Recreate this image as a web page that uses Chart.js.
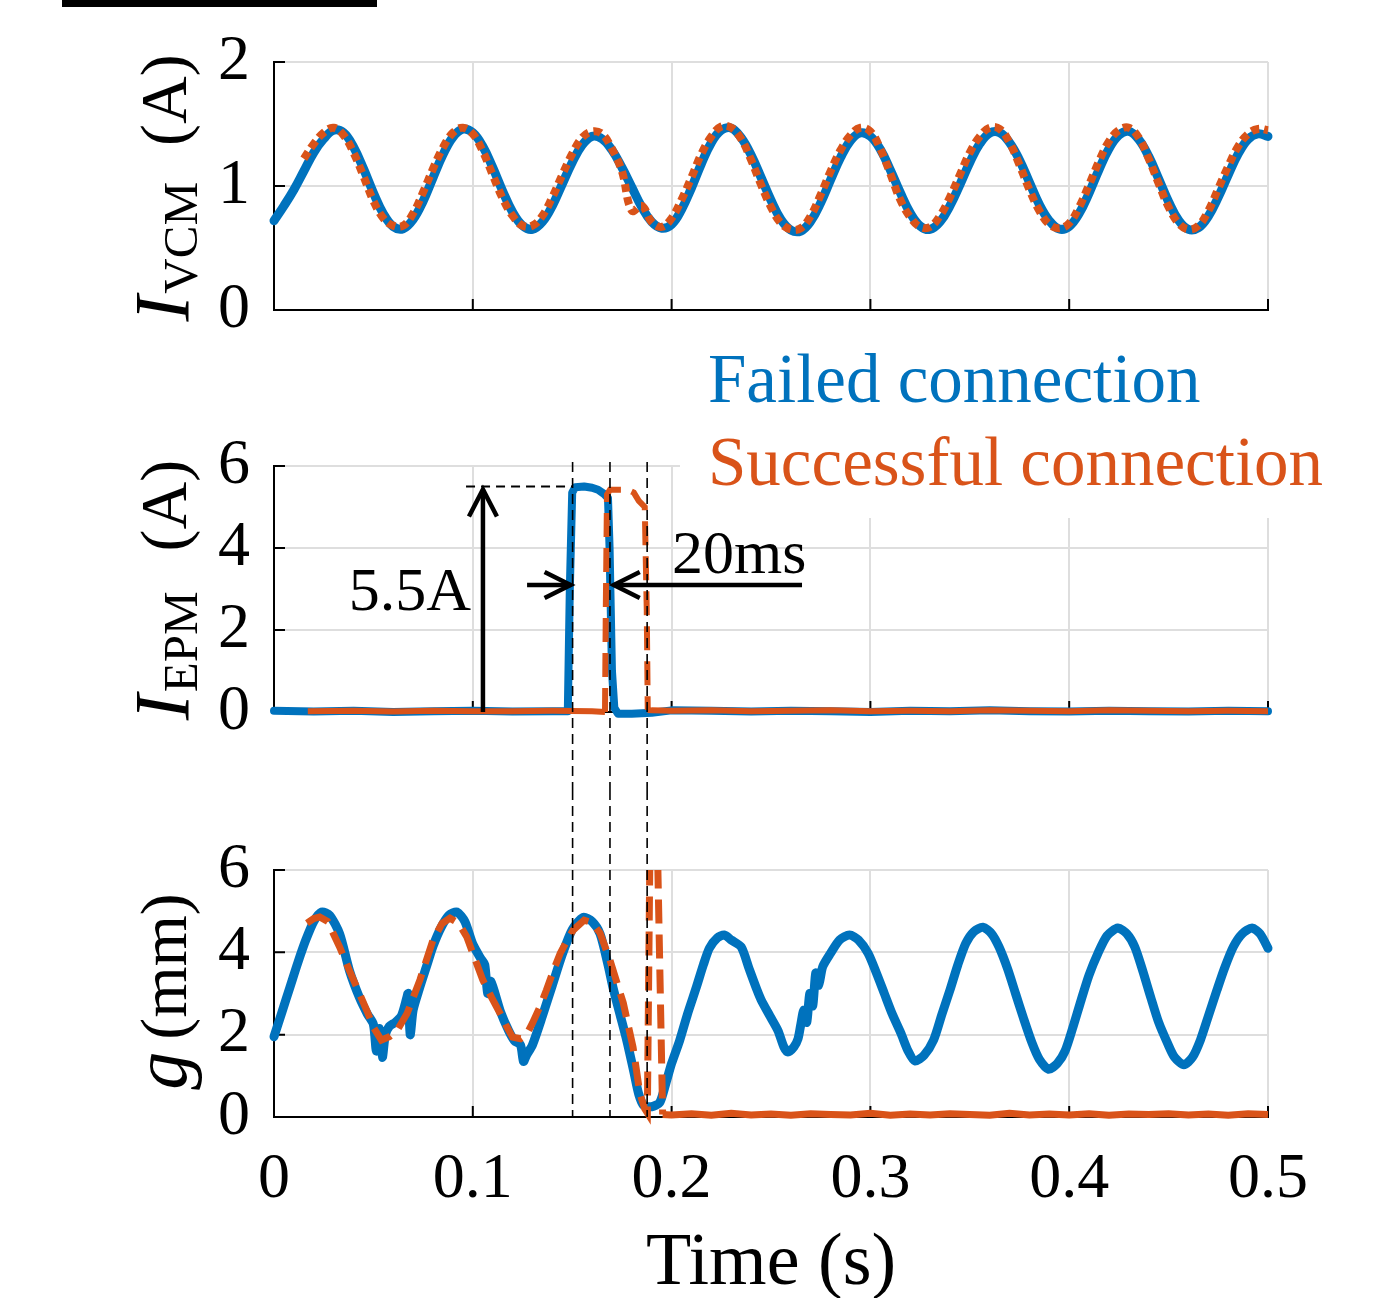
<!DOCTYPE html>
<html>
<head>
<meta charset="utf-8">
<script src="https://cdn.jsdelivr.net/npm/chart.js@4.4.0/dist/chart.umd.min.js"></script>
<style>
  html, body { margin: 0; padding: 0; background: #fff; overflow: hidden; }
  #wrap { position: relative; width: 1379px; height: 1298px; background: #fff; }
  canvas { position: absolute; left: 0; }
</style>
</head>
<body>
<div id="wrap">
  <canvas id="c1" width="1379" height="380" style="top:0px"></canvas>
  <canvas id="c2" width="1379" height="460" style="top:330px"></canvas>
  <canvas id="c3" width="1379" height="508" style="top:790px"></canvas>
</div>
<script>
// ================= DATA =================
const timeTicks = [0, 0.1, 0.2, 0.3, 0.4, 0.5];

// I_VCM (A), sampled every 5 ms
const vcmStep = 0.005;
const ivcmFailed = [
  0.72, 0.84, 0.97, 1.12, 1.27, 1.38, 1.45, 1.43, 1.315, 1.14,
  0.946, 0.777, 0.672, 0.655, 0.73, 0.877, 1.067, 1.253, 1.394, 1.458,
  1.43, 1.32, 1.15, 0.96, 0.79, 0.68, 0.65, 0.71, 0.84, 1.016,
  1.19, 1.33, 1.40, 1.38, 1.29, 1.15, 0.99, 0.83, 0.71, 0.66,
  0.69, 0.81, 0.985, 1.18, 1.35, 1.45, 1.467, 1.39, 1.25, 1.07,
  0.885, 0.73, 0.645, 0.637, 0.716, 0.864, 1.05, 1.23, 1.366, 1.428,
  1.40, 1.295, 1.13, 0.948, 0.784, 0.678, 0.65, 0.71, 0.84, 1.01,
  1.19, 1.34, 1.427, 1.43, 1.35, 1.21, 1.03, 0.85, 0.72, 0.653,
  0.674, 0.778, 0.943, 1.132, 1.30, 1.41, 1.44, 1.375, 1.239, 1.058,
  0.873, 0.725, 0.65, 0.663, 0.756, 0.91, 1.09, 1.259, 1.377, 1.42,
  1.40
];
// successful connection trace starts at t = 0.015 s
const ivcmSuccessStart = 0.015;
const ivcmSuccess = [
  1.22, 1.34, 1.43, 1.47, 1.41, 1.27, 1.08,
  0.88, 0.74, 0.68, 0.68, 0.78, 0.95, 1.14, 1.31, 1.43, 1.47,
  1.42, 1.28, 1.09, 0.90, 0.76, 0.68, 0.68, 0.76, 0.91, 1.09,
  1.26, 1.39, 1.44, 1.42, 1.30, 1.12, 0.80, 0.84, 0.71, 0.67,
  0.74, 0.89, 1.07, 1.26, 1.40, 1.48, 1.47, 1.38, 1.21, 1.01,
  0.83, 0.70, 0.65, 0.66, 0.76, 0.93, 1.12, 1.29, 1.41, 1.47,
  1.44, 1.30, 1.10, 0.89, 0.75, 0.67, 0.67, 0.76, 0.91, 1.09,
  1.27, 1.40, 1.47, 1.46, 1.35, 1.17, 0.97, 0.80, 0.69, 0.66,
  0.70, 0.83, 1.01, 1.20, 1.36, 1.45, 1.47, 1.39, 1.22, 1.02,
  0.83, 0.70, 0.65, 0.68, 0.80, 0.98, 1.16, 1.32, 1.42, 1.46,
  1.45
];

// I_EPM (A): [time (s), current (A)]
const iepmFailed = [
  [0,0.03],[0.02,0.01],[0.04,0.03],[0.06,0.0],[0.08,0.02],[0.10,0.03],[0.12,0.01],[0.14,0.02],
  [0.1478,0.02],[0.1488,3.0],[0.1500,5.35],[0.1515,5.48],[0.156,5.5],[0.160,5.47],[0.163,5.42],
  [0.166,5.32],[0.168,5.22],[0.1688,4.0],[0.1700,1.0],[0.1712,0.1],[0.173,-0.04],[0.18,-0.04],
  [0.19,-0.02],[0.20,0.04],[0.22,0.03],[0.24,0.01],[0.26,0.03],[0.28,0.02],[0.30,0.0],[0.32,0.03],
  [0.34,0.02],[0.36,0.04],[0.38,0.02],[0.40,0.01],[0.42,0.03],[0.44,0.02],[0.46,0.01],[0.48,0.03],[0.50,0.02]
];
const iepmSuccess = [
  [0.017,0.02],[0.04,0.03],[0.06,0.01],[0.08,0.03],[0.10,0.02],[0.12,0.02],[0.14,0.03],[0.16,0.02],
  [0.1665,0.0],[0.1669,2.5],[0.1675,5.3],[0.169,5.42],[0.178,5.42],[0.181,5.35],[0.1835,5.15],
  [0.1865,5.0],[0.1875,2.5],[0.1880,0.05],[0.19,0.04],[0.20,0.03],[0.22,0.04],[0.24,0.02],[0.26,0.03],
  [0.28,0.04],[0.30,0.02],[0.32,0.03],[0.34,0.02],[0.36,0.04],[0.38,0.03],[0.40,0.02],[0.42,0.04],
  [0.44,0.03],[0.46,0.02],[0.48,0.03],[0.50,0.02]
];

// air gap g (mm): [time (s), gap (mm)]
const gFailed = [
  [0,1.95],[0.004,2.55],[0.008,3.15],[0.012,3.75],[0.016,4.3],[0.020,4.75],[0.024,4.98],[0.028,4.9],
  [0.033,4.45],[0.038,3.55],[0.043,2.9],[0.047,2.5],[0.050,2.25],[0.0515,1.6],[0.053,2.15],[0.0545,1.45],
  [0.056,2.0],[0.058,2.2],[0.061,2.3],[0.064,2.45],[0.066,2.75],[0.0675,3.0],[0.0685,2.0],[0.070,2.6],
  [0.073,3.1],[0.077,3.7],[0.080,4.15],[0.084,4.6],[0.088,4.9],[0.092,4.98],[0.096,4.75],[0.100,4.2],
  [0.104,3.85],[0.106,3.7],[0.1075,3.0],[0.109,3.3],[0.114,2.55],[0.118,2.1],[0.121,1.85],[0.124,1.75],
  [0.1255,1.35],[0.127,1.5],[0.130,1.75],[0.135,2.45],[0.140,3.2],[0.145,3.95],[0.150,4.55],[0.1555,4.85],
  [0.160,4.75],[0.164,4.45],[0.168,3.7],[0.1705,3.15],[0.174,2.5],[0.1775,1.85],[0.181,1.1],[0.1835,0.55],
  [0.186,0.28],[0.190,0.25],[0.194,0.35],[0.197,0.8],[0.200,1.3],[0.204,1.85],[0.208,2.5],[0.2125,3.16],
  [0.216,3.7],[0.219,4.1],[0.223,4.35],[0.2265,4.42],[0.230,4.3],[0.235,4.13],[0.239,3.6],[0.243,3.08],
  [0.245,2.85],[0.2495,2.45],[0.2535,2.1],[0.2565,1.7],[0.2585,1.58],[0.2615,1.7],[0.2636,1.9],[0.265,2.25],
  [0.2665,2.6],[0.268,2.3],[0.2695,3.0],[0.271,2.7],[0.2725,3.5],[0.274,3.2],[0.276,3.65],[0.280,3.98],
  [0.2845,4.3],[0.2895,4.42],[0.294,4.3],[0.2988,3.98],[0.303,3.5],[0.307,3.0],[0.311,2.5],[0.3153,2.04],
  [0.319,1.6],[0.3224,1.36],[0.327,1.5],[0.3318,1.87],[0.336,2.5],[0.340,3.08],[0.344,3.7],[0.348,4.22],
  [0.352,4.5],[0.3566,4.61],[0.361,4.45],[0.3647,4.13],[0.369,3.6],[0.373,3.0],[0.377,2.4],[0.3813,1.8],
  [0.385,1.4],[0.3896,1.16],[0.394,1.3],[0.3979,1.6],[0.402,2.2],[0.406,2.84],[0.410,3.45],[0.4145,3.98],
  [0.419,4.4],[0.4245,4.59],[0.429,4.45],[0.433,4.13],[0.437,3.55],[0.441,2.91],[0.445,2.3],[0.4494,1.8],
  [0.453,1.45],[0.4577,1.27],[0.462,1.45],[0.466,1.87],[0.470,2.45],[0.4743,3.08],[0.478,3.6],[0.4825,4.13],
  [0.487,4.45],[0.492,4.59],[0.496,4.45],[0.500,4.1]
];
const gSuccess = [
  [0.0166,4.71],[0.020,4.82],[0.023,4.86],[0.027,4.75],[0.033,4.13],[0.038,3.55],[0.043,3.0],[0.047,2.55],
  [0.050,2.18],[0.054,1.87],[0.058,1.95],[0.062,2.11],[0.067,2.52],[0.0734,3.33],[0.080,4.3],[0.0845,4.7],
  [0.0885,4.83],[0.093,4.7],[0.097,4.37],[0.101,3.85],[0.105,3.33],[0.1095,2.9],[0.1137,2.52],[0.117,2.2],
  [0.120,1.94],[0.124,1.9],[0.127,2.0],[0.130,2.28],[0.1335,2.65],[0.137,3.08],[0.1405,3.55],[0.144,3.98],
  [0.1475,4.3],[0.1505,4.54],[0.156,4.78],[0.160,4.72],[0.164,4.47],[0.169,3.81],[0.1757,2.77],[0.1806,1.7],
  [0.184,0.58],[0.1865,0.2],[0.1878,0.1],[0.1893,7.5],[0.1925,7.5],[0.1955,0.06],[0.200,0.05],[0.21,0.08],
  [0.22,0.04],[0.23,0.09],[0.24,0.05],[0.25,0.07],[0.26,0.04],[0.27,0.08],[0.28,0.06],[0.29,0.05],
  [0.30,0.09],[0.31,0.04],[0.32,0.07],[0.33,0.05],[0.34,0.08],[0.35,0.06],[0.36,0.04],[0.37,0.09],
  [0.38,0.05],[0.39,0.07],[0.40,0.05],[0.41,0.08],[0.42,0.04],[0.43,0.07],[0.44,0.06],[0.45,0.08],
  [0.46,0.05],[0.47,0.07],[0.48,0.04],[0.49,0.08],[0.50,0.06]
];

// annotation values
const markerTimes = [0.1502, 0.1690, 0.1877];   // vertical dashed lines (s)
const peakCurrent = 5.5;                          // A
const peakArrowTime = 0.1051;                     // s
const peakLineStart = 0.0966;                     // s
const widthArrowLevel = 3.1;                      // A
const widthArrowLeft = [0.1273, 0.1502];          // tail, tip (s)
const widthArrowRight = [0.2656, 0.1699];         // tail, tip (s)
const labels = { peak: '5.5A', width: '20ms', failed: 'Failed connection', success: 'Successful connection' };

// ================= STYLE =================
const FONT = '"Liberation Serif", "Times New Roman", serif';
const BLUE = '#0072BD';
const ORANGE = '#D95319';
const GRID = '#dedede';

const toPts = arr => arr.map(p => ({ x: p[0], y: p[1] }));
const vcmFailedPts = ivcmFailed.map((v, i) => ({ x: +(i * vcmStep).toFixed(4), y: v }));
const vcmSuccessPts = ivcmSuccess.map((v, i) => ({ x: +(ivcmSuccessStart + i * vcmStep).toFixed(4), y: v }));

function xScale(showLabels, height) {
  return {
    type: 'linear', min: 0, max: 0.5,
    afterFit: s => { s.height = height; },
    grid: { color: GRID, lineWidth: 2, drawTicks: false },
    border: { display: true, color: '#000', width: 2 },
    ticks: {
      display: showLabels, stepSize: 0.1, autoSkip: false, maxRotation: 0, minRotation: 0,
      padding: 31, color: '#000', font: { family: FONT, size: 64, lineHeight: 1 },
      callback: v => String(Number(Number(v).toFixed(2)))
    },
    title: showLabels
      ? { display: true, text: 'Time (s)', color: '#000', font: { family: FONT, size: 74, lineHeight: 0.9 }, padding: 0 }
      : { display: false }
  };
}
function yScale(max, step) {
  return {
    type: 'linear', min: 0, max: max,
    afterFit: s => { s.width = 274; },
    grid: { color: GRID, lineWidth: 2, drawTicks: false },
    border: { display: true, color: '#000', width: 2 },
    ticks: { stepSize: step, padding: 24, color: '#000', font: { family: FONT, size: 64, lineHeight: 1 },
             callback: v => String(v) }
  };
}

const inwardTicks = {
  id: 'inwardTicks',
  beforeDatasetsDraw(chart) {
    const { ctx, chartArea: a, scales: { x, y } } = chart;
    ctx.save();
    ctx.strokeStyle = '#000'; ctx.lineWidth = 2;
    ctx.beginPath();
    y.ticks.forEach(t => { const p = y.getPixelForValue(t.value); ctx.moveTo(a.left, p); ctx.lineTo(a.left + 11, p); });
    x.ticks.forEach(t => { const p = x.getPixelForValue(t.value); ctx.moveTo(p, a.bottom); ctx.lineTo(p, a.bottom - 11); });
    ctx.stroke();
    ctx.restore();
  }
};

function yTitle(parts, baseX, shift) {
  return {
    id: 'ytitle',
    afterDraw(chart) {
      const { ctx, chartArea: a } = chart;
      ctx.save();
      let total = 0;
      parts.forEach(p => { ctx.font = p.font; p.w = ctx.measureText(p.text).width; total += p.w + (p.gap || 0); });
      const cy = (a.top + a.bottom) / 2 + (shift || 0);
      ctx.translate(baseX, cy + total / 2);
      ctx.rotate(-Math.PI / 2);
      ctx.fillStyle = '#000'; ctx.textBaseline = 'alphabetic'; ctx.textAlign = 'left';
      let cur = 0;
      parts.forEach(p => { ctx.font = p.font; cur += (p.gap || 0); ctx.fillText(p.text, cur, p.dy || 0); cur += p.w; });
      ctx.restore();
    }
  };
}

function dashedVertical(ctx, x, y0, y1) {
  ctx.beginPath(); ctx.moveTo(x, y0); ctx.lineTo(x, y1); ctx.stroke();
}
function arrowHead(ctx, tipX, tipY, dirX, dirY, len, half) {
  const bx = tipX - dirX * len, by = tipY - dirY * len;
  const px = -dirY, py = dirX;
  ctx.beginPath();
  ctx.moveTo(bx + px * half, by + py * half);
  ctx.lineTo(tipX, tipY);
  ctx.lineTo(bx - px * half, by - py * half);
  ctx.stroke();
}

const baseOpts = {
  responsive: false, animation: false, devicePixelRatio: 1, events: [],
  plugins: { legend: { display: false }, tooltip: { enabled: false } },
  elements: { point: { radius: 0 } }
};

// ================= PANEL 1 : I_VCM =================
new Chart(document.getElementById('c1'), {
  type: 'line',
  data: {
    datasets: [
      { data: vcmSuccessPts, borderColor: ORANGE, borderWidth: 8, borderDash: [8, 5], borderCapStyle: 'butt',
        tension: 0.4, pointRadius: 0, order: 0, clip: 8 },
      { data: vcmFailedPts, borderColor: BLUE, borderWidth: 9, borderJoinStyle: 'round', borderCapStyle: 'round',
        tension: 0.4, pointRadius: 0, order: 1, clip: 8 }
    ]
  },
  options: Object.assign({}, baseOpts, {
    layout: { padding: { top: 62, left: 0, right: 111, bottom: 0 } },
    scales: { x: xScale(false, 70), y: yScale(2, 1) }
  }),
  plugins: [inwardTicks,
    yTitle([
      { text: 'I', font: 'italic 78px ' + FONT },
      { text: 'VCM', font: '49px ' + FONT, dy: 9, gap: 2 },
      { text: '(A)', font: '66px ' + FONT, dy: -2, gap: 36 }
    ], 188, 2),
    { id: 'topbar', afterDraw(chart) { const c = chart.ctx; c.save(); c.fillStyle = '#000'; c.fillRect(62, 0, 315, 7); c.restore(); } }
  ]
});

// ================= PANEL 2 : I_EPM =================
const solidFlat = ctx => (Math.abs(ctx.p0.parsed.y) < 0.3 && Math.abs(ctx.p1.parsed.y) < 0.3) ? [] : undefined;
new Chart(document.getElementById('c2'), {
  type: 'line',
  data: {
    datasets: [
      { data: toPts(iepmSuccess), borderColor: ORANGE, borderWidth: 6, borderDash: [24, 11], borderCapStyle: 'butt',
        tension: 0, pointRadius: 0, order: 0, clip: 8, segment: { borderDash: solidFlat } },
      { data: toPts(iepmFailed), borderColor: BLUE, borderWidth: 8, borderJoinStyle: 'round', borderCapStyle: 'round',
        tension: 0, pointRadius: 0, order: 1, clip: 8 }
    ]
  },
  options: Object.assign({}, baseOpts, {
    layout: { padding: { top: 136, left: 0, right: 111, bottom: 0 } },
    scales: { x: xScale(false, 78), y: yScale(6, 2) }
  }),
  plugins: [inwardTicks,
    yTitle([
      { text: 'I', font: 'italic 78px ' + FONT },
      { text: 'EPM', font: '49px ' + FONT, dy: 9, gap: 2 },
      { text: '(A)', font: '66px ' + FONT, dy: -2, gap: 40 }
    ], 188, 1),
    {
      id: 'annot2',
      afterDraw(chart) {
        const { ctx, scales: { x, y } } = chart;
        ctx.save();
        // dashed markers
        ctx.strokeStyle = '#000'; ctx.lineWidth = 1.6; ctx.setLineDash([10, 6]);
        markerTimes.forEach(t => dashedVertical(ctx, x.getPixelForValue(t), y.getPixelForValue(6.1), chart.height));
        // dashed level line at 5.5 A
        ctx.lineWidth = 2.2; ctx.setLineDash([9, 6]);
        ctx.beginPath();
        ctx.moveTo(x.getPixelForValue(peakLineStart), y.getPixelForValue(peakCurrent));
        ctx.lineTo(x.getPixelForValue(markerTimes[0]), y.getPixelForValue(peakCurrent));
        ctx.stroke();
        ctx.setLineDash([]);
        // vertical arrow
        ctx.lineWidth = 4.5; ctx.lineCap = 'butt'; ctx.lineJoin = 'miter';
        const ax = x.getPixelForValue(peakArrowTime);
        const ay0 = y.getPixelForValue(0), ay1 = y.getPixelForValue(peakCurrent);
        ctx.beginPath(); ctx.moveTo(ax, ay0); ctx.lineTo(ax, ay1 + 3); ctx.stroke();
        arrowHead(ctx, ax, ay1 + 3, 0, -1, 27, 14);
        // horizontal arrows
        const hy = y.getPixelForValue(widthArrowLevel);
        const l0 = x.getPixelForValue(widthArrowLeft[0]), l1 = x.getPixelForValue(widthArrowLeft[1]);
        ctx.beginPath(); ctx.moveTo(l0, hy); ctx.lineTo(l1 - 2, hy); ctx.stroke();
        arrowHead(ctx, l1 - 2, hy, 1, 0, 26, 13);
        const r0 = x.getPixelForValue(widthArrowRight[0]), r1 = x.getPixelForValue(widthArrowRight[1]);
        ctx.beginPath(); ctx.moveTo(r0, hy); ctx.lineTo(r1 + 2, hy); ctx.stroke();
        arrowHead(ctx, r1 + 2, hy, -1, 0, 26, 13);
        // texts
        ctx.fillStyle = '#000'; ctx.font = '62px ' + FONT; ctx.textBaseline = 'alphabetic';
        ctx.textAlign = 'right'; ctx.fillText(labels.peak, 471, 280);
        ctx.textAlign = 'left'; ctx.fillText(labels.width, 672, 243);
        // legend box
        ctx.fillStyle = '#fff'; ctx.fillRect(680, 0, 699, 188);
        ctx.font = '69px ' + FONT; ctx.textAlign = 'left';
        ctx.fillStyle = BLUE; ctx.fillText(labels.failed, 708, 72);
        ctx.fillStyle = ORANGE; ctx.fillText(labels.success, 708, 155);
        ctx.restore();
      }
    }
  ]
});

// ================= PANEL 3 : g =================
new Chart(document.getElementById('c3'), {
  type: 'line',
  data: {
    datasets: [
      { data: toPts(gSuccess), borderColor: ORANGE, borderWidth: 7, borderDash: [24, 11], borderCapStyle: 'butt',
        tension: 0, pointRadius: 0, order: 0, clip: { left: 8, right: 8, top: 0, bottom: 8 },
        segment: { borderDash: ctx => ctx.p0.parsed.x >= 0.1950 ? [] : undefined } },
      { data: toPts(gFailed), borderColor: BLUE, borderWidth: 9, borderJoinStyle: 'round', borderCapStyle: 'round',
        tension: 0.25, pointRadius: 0, order: 1, clip: 8 }
    ]
  },
  options: Object.assign({}, baseOpts, {
    layout: { padding: { top: 80, left: 0, right: 111, bottom: 0 } },
    scales: { x: xScale(true, 181), y: yScale(6, 2) }
  }),
  plugins: [inwardTicks,
    yTitle([
      { text: 'g', font: 'italic 76px ' + FONT },
      { text: '(mm)', font: '66px ' + FONT, gap: 12 }
    ], 186, -2),
    {
      id: 'annot3',
      afterDraw(chart) {
        const { ctx, chartArea: a, scales: { x } } = chart;
        ctx.save();
        ctx.strokeStyle = '#000'; ctx.lineWidth = 1.6; ctx.setLineDash([10, 6]);
        markerTimes.forEach(t => dashedVertical(ctx, x.getPixelForValue(t), 0, a.bottom));
        ctx.restore();
      }
    }
  ]
});
</script>
</body>
</html>
